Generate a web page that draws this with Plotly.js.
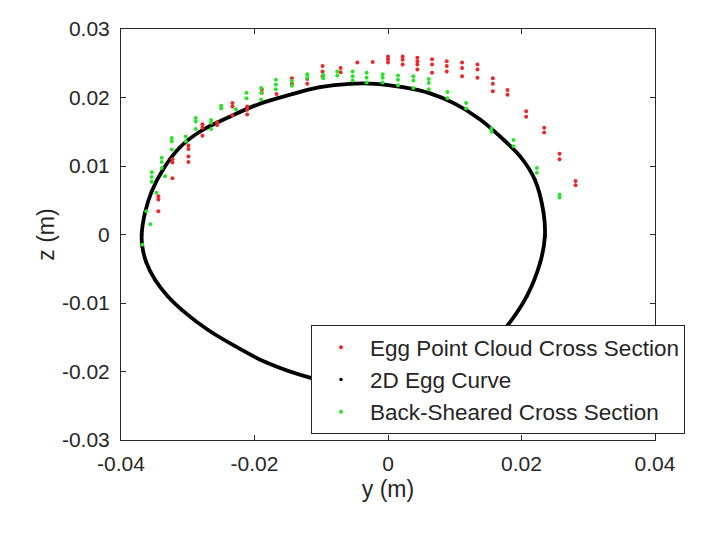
<!DOCTYPE html>
<html>
<head>
<meta charset="utf-8">
<script src="https://cdn.plot.ly/plotly-3.0.1.min.js"></script>
<style>html,body{margin:0;padding:0;background:#fff;}#chart{width:716px;height:535px;}</style>
</head>
<body>
<div id="chart"></div>
<script>
// Egg point cloud cross section (red)
const cloudY = [
  -0.0344,-0.0344,-0.0344,
  -0.0323,-0.0323,-0.0323,
  -0.0299,-0.0299,-0.0299,-0.0299,
  -0.0278,-0.0278,-0.0278,
  -0.0256,-0.0256,
  -0.0233,-0.0233,-0.0233,
  -0.0211,-0.0211,-0.0211,
  -0.0189,-0.0189,
  -0.0167,
  -0.0144,-0.0144,
  -0.0121,-0.0121,
  -0.0098,-0.0098,-0.0098,
  -0.0071,-0.0071,
  -0.0046,
  -0.0023,
  0.0000,0.0000,0.0000,
  0.0022,0.0022,0.0022,
  0.0044,0.0044,0.0044,0.0044,
  0.0066,0.0066,0.0066,
  0.0088,0.0088,0.0088,
  0.0111,0.0111,0.0111,
  0.0134,0.0134,0.0134,
  0.0157,0.0157,0.0157,
  0.0179,0.0179,
  0.0207,0.0207,
  0.0234,0.0234,
  0.0257,0.0257,
  0.0281,0.0281
];
const cloudZ = [
  0.0056,0.0051,0.0034,
  0.0110,0.0105,0.0082,
  0.0130,0.0125,0.0114,0.0106,
  0.0161,0.0156,0.0144,
  0.0164,0.0160,
  0.0192,0.0187,0.0174,
  0.0187,0.0182,0.0175,
  0.0212,0.0207,
  0.0205,
  0.0228,0.0220,
  0.0227,0.0220,
  0.0246,0.0238,0.0231,
  0.0243,0.0237,
  0.0251,
  0.0252,
  0.0260,0.0256,0.0251,
  0.0260,0.0255,0.0248,
  0.0258,0.0253,0.0248,0.0241,
  0.0256,0.0248,0.0236,
  0.0253,0.0246,0.0238,
  0.0251,0.0243,0.0231,
  0.0248,0.0241,0.0229,
  0.0228,0.0220,0.0209,
  0.0211,0.0204,
  0.0180,0.0172,
  0.0156,0.0149,
  0.0118,0.0110,
  0.0078,0.0072
];

// 2D egg curve (black)
const curveY = [0.0235,0.0233,0.0220,0.0198,0.0168,0.0138,0.0100,0.0063,0.0022,-0.0019,
  -0.0057,-0.0102,-0.0147,-0.0192,-0.0237,-0.0282,-0.0312,-0.0337,-0.0354,-0.0364,
  -0.0369,-0.0368,-0.0362,-0.0349,-0.0330,-0.0304,-0.0270,-0.0229,-0.0182,-0.0117,
  -0.0064,-0.0012,0.0040,0.0093,0.0138,0.0174,0.0208,0.0228,0.0235];
const curveZ = [-0.0003,0.0032,0.0080,0.0114,0.0143,0.0168,0.0191,0.0206,0.0215,0.0220,
  0.0220,0.0215,0.0204,0.0191,0.0172,0.0150,0.0127,0.0095,0.0063,0.0032,
  0.0000,-0.0018,-0.0041,-0.0066,-0.0090,-0.0114,-0.0139,-0.0163,-0.0187,-0.0209,
  -0.0219,-0.0222,-0.0216,-0.0200,-0.0175,-0.0139,-0.0090,-0.0041,-0.0003];

// Back-sheared cross section (green)
const shearY = [
  -0.0368,
  -0.0362,
  -0.0356,
  -0.0354,-0.0354,-0.0354,
  -0.0347,
  -0.0339,-0.0339,-0.0339,
  -0.0334,
  -0.0324,-0.0324,-0.0324,
  -0.0303,-0.0303,
  -0.0288,-0.0288,-0.0288,
  -0.0265,-0.0265,-0.0265,
  -0.0250,-0.0250,
  -0.0228,
  -0.0212,-0.0212,
  -0.0190,-0.0190,-0.0190,
  -0.0168,-0.0168,-0.0168,
  -0.0144,-0.0144,
  -0.0121,-0.0121,
  -0.0097,-0.0097,
  -0.0076,-0.0076,
  -0.0053,-0.0053,-0.0053,
  -0.0032,-0.0032,-0.0032,
  -0.0008,-0.0008,-0.0008,
  0.0015,0.0015,0.0015,
  0.0038,0.0038,0.0038,
  0.0061,0.0061,0.0061,
  0.0089,0.0089,
  0.0117,0.0117,
  0.0155,0.0155,
  0.0188,0.0188,
  0.0223,0.0223,
  0.0257,0.0257
];
const shearZ = [
  -0.0015,
  0.0034,
  0.0015,
  0.0091,0.0084,0.0077,
  0.0061,
  0.0112,0.0106,0.0097,
  0.0085,
  0.0141,0.0136,0.0124,
  0.0143,0.0136,
  0.0170,0.0165,0.0154,
  0.0167,0.0163,0.0154,
  0.0188,0.0184,
  0.0183,
  0.0207,0.0199,
  0.0214,0.0207,0.0197,
  0.0226,0.0219,0.0212,
  0.0224,0.0217,
  0.0234,0.0229,
  0.0233,0.0228,
  0.0238,0.0232,
  0.0238,0.0231,0.0225,
  0.0236,0.0229,0.0222,
  0.0234,0.0229,0.0222,
  0.0232,0.0226,0.0218,
  0.0231,0.0225,0.0214,
  0.0227,0.0221,0.0212,
  0.0208,0.0199,
  0.0192,0.0184,
  0.0155,0.0150,
  0.0138,0.0129,
  0.0097,0.0090,
  0.0058,0.0054
];

const seriesNames = ['Egg Point Cloud Cross Section', '2D Egg Curve', 'Back-Sheared Cross Section'];
const xTickVals = [-0.04, -0.02, 0, 0.02, 0.04];
const xTickText = ['-0.04', '-0.02', '0', '0.02', '0.04'];
const yTickVals = [-0.03, -0.02, -0.01, 0, 0.01, 0.02, 0.03];
const yTickText = ['-0.03', '-0.02', '-0.01', '0', '0.01', '0.02', '0.03'];

const RED = 'rgb(236,40,40)';
const GREEN = 'rgb(40,228,40)';
const INK = '#262626';
const FONT = 'Liberation Sans, Arial, sans-serif';

const traces = [
  {x: curveY, y: curveZ, mode: 'lines', line: {color: '#000', width: 3.8, shape: 'spline', smoothing: 1},
   showlegend: false, hoverinfo: 'skip'},
  {x: curveY, y: curveZ, mode: 'markers', name: seriesNames[1], legendrank: 2,
   marker: {color: '#000', size: 3.5}},
  {x: cloudY, y: cloudZ, mode: 'markers', name: seriesNames[0], legendrank: 1,
   marker: {color: RED, size: 4}},
  {x: shearY, y: shearZ, mode: 'markers', name: seriesNames[2], legendrank: 3,
   marker: {color: GREEN, size: 4}}
];

const axisCommon = {
  showline: true, linecolor: INK, linewidth: 1, mirror: 'allticks',
  ticks: 'inside', ticklen: 5, tickcolor: INK, tickwidth: 1,
  showgrid: false, zeroline: false, tickmode: 'array',
  tickfont: {family: FONT, size: 21, color: INK}
};

const layout = {
  width: 716, height: 535,
  margin: {l: 121, r: 61, t: 29, b: 95},
  paper_bgcolor: '#fff', plot_bgcolor: '#fff',
  font: {family: FONT, color: INK},
  xaxis: Object.assign({}, axisCommon, {
    range: [-0.04, 0.04], tickvals: xTickVals, ticktext: xTickText,
    ticklabelstandoff: 5,
    title: {text: 'y (m)', font: {size: 23, color: INK}, standoff: 6}
  }),
  yaxis: Object.assign({}, axisCommon, {
    range: [-0.03, 0.03], tickvals: yTickVals, ticktext: yTickText,
    ticklabelstandoff: 6,
    title: {text: 'z (m)', font: {size: 23, color: INK}, standoff: 0}
  }),
  showlegend: true,
  legend: {
    x: 0.3558, y: 0.2798, xanchor: 'left', yanchor: 'top',
    bgcolor: '#fff', bordercolor: INK, borderwidth: 1,
    font: {family: FONT, size: 22.5, color: INK},
    itemwidth: 48, traceorder: 'normal'
  }
};

Plotly.newPlot('chart', traces, layout, {displayModeBar: false, staticPlot: true});
</script>
</body>
</html>
